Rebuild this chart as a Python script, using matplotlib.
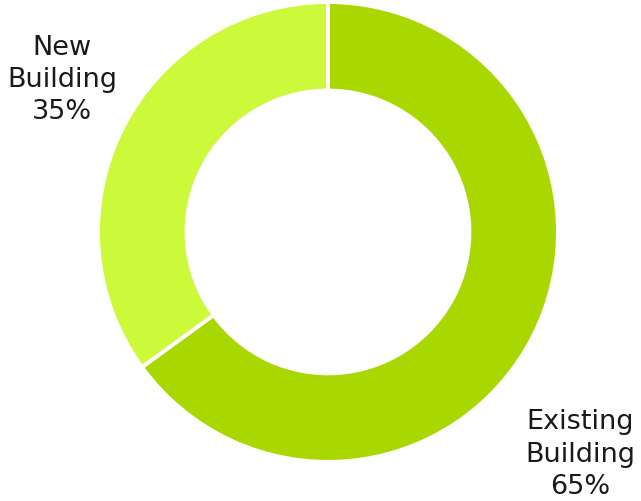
import matplotlib.pyplot as plt

labels = ["Existing\nBuilding", "New\nBuilding"]
values = [65, 35]
colors = ["#a8d800", "#ccfa3a"]

fig = plt.figure(figsize=(6.41, 5.02), dpi=100)
ax = fig.add_axes([0, 0, 1, 1])
ax.set_facecolor("white")

wedges, _ = ax.pie(values, colors=colors, startangle=90, counterclock=False,
                   radius=1.0, center=(0, 0),
                   wedgeprops=dict(width=0.385, edgecolor="white", linewidth=2.8))

# label positions (outside the ring)
label_pos = [(1.096, -0.965), (-1.157, 0.665)]
for (x, y), lab, v in zip(label_pos, labels, values):
    ax.text(x, y, f"{lab}\n{v}%", ha="center", va="center", fontsize=19.5,
            family="DejaVu Sans", color="#1a1a1a", linespacing=1.32)

ax.set_xlim(-1.426, 1.361)
ax.set_ylim(-1.170, 1.013)
ax.set_aspect("equal")
ax.axis("off")

fig.savefig("out.png", dpi=100, facecolor="white")
